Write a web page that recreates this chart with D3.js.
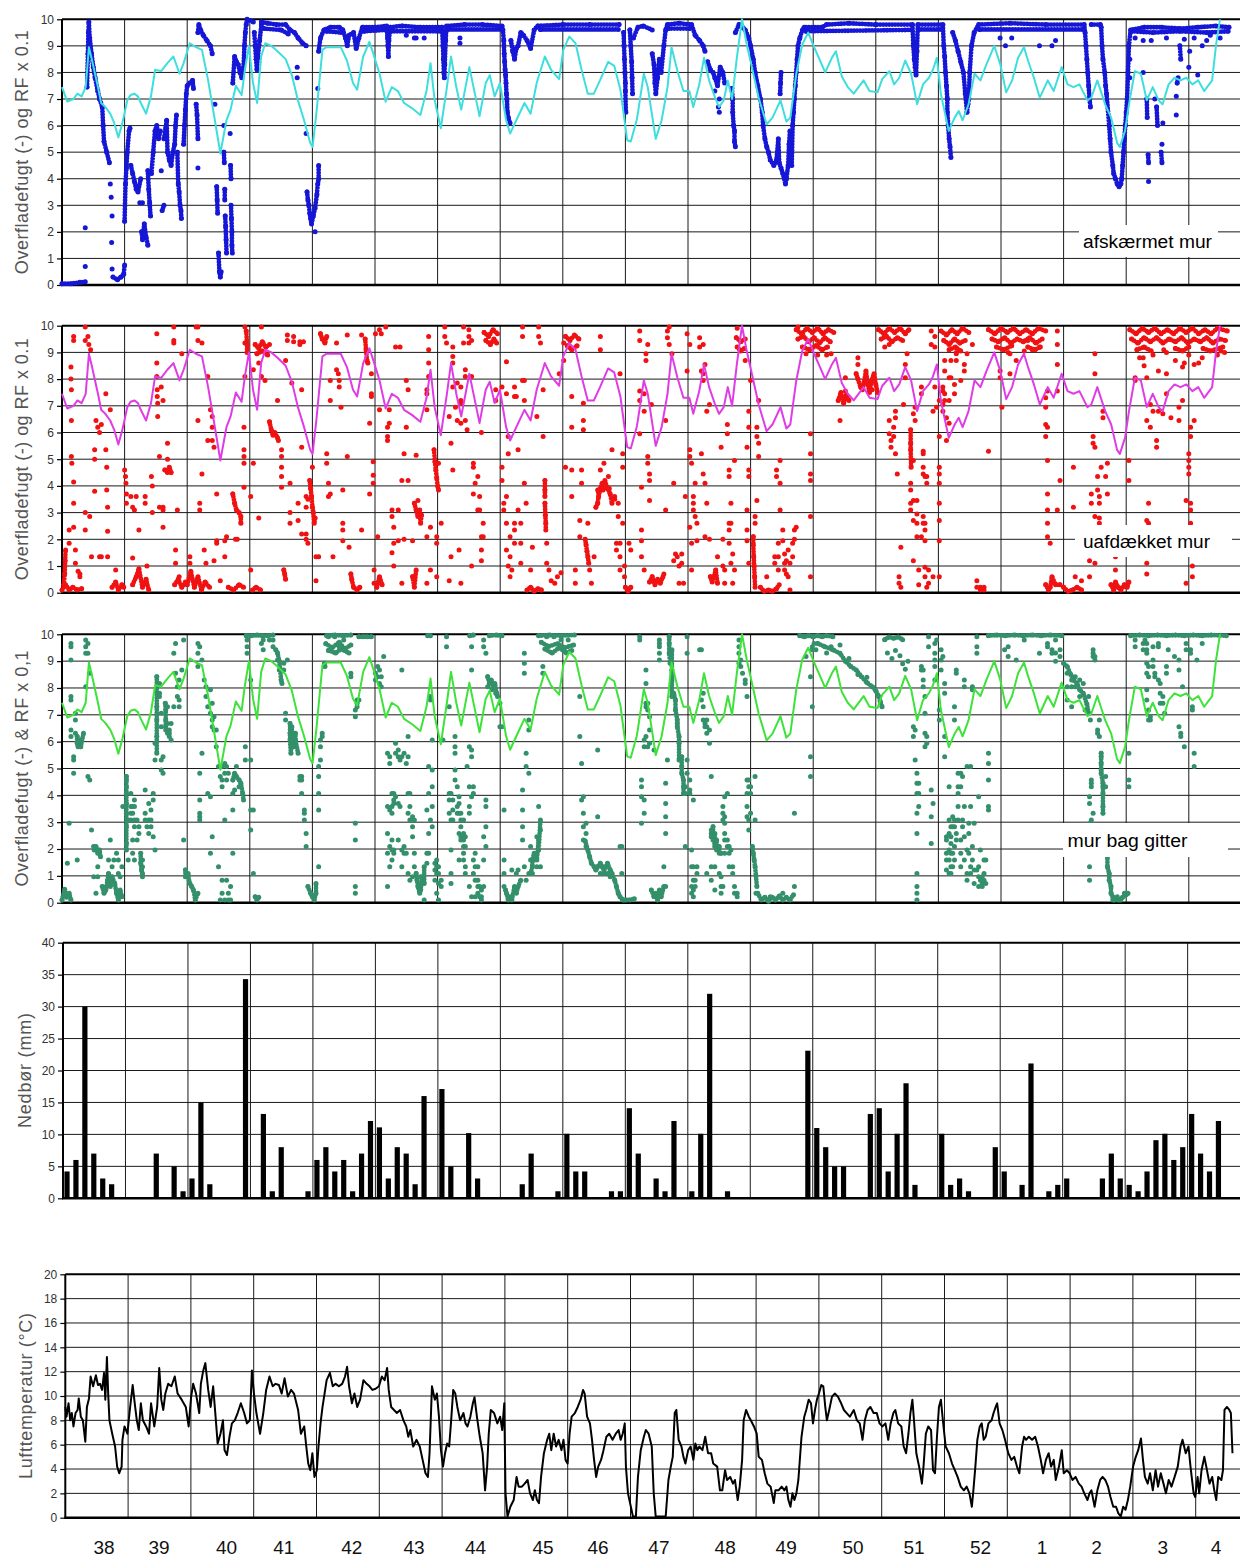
<!DOCTYPE html>
<html><head><meta charset="utf-8">
<script src="https://cdn.jsdelivr.net/npm/d3@7"></script>
<style>body{margin:0;background:#fff}svg{display:block}text{font-family:Arial,"Liberation Sans",sans-serif}</style>
</head><body><svg id="c" width="1241" height="1558"></svg>
<script>
// ---------------- DATA ----------------
// x values are days from the start of week 38, y values as read from the chart
const weekLabels = ["38","39","40","41","42","43","44","45","46","47","48","49","50","51","52","1","2","3","4"];
const weekLabelDay = [4.31,10.45,17.97,24.35,31.94,38.87,45.73,53.25,59.39,66.17,73.55,80.35,87.8,94.6,102.02,108.86,114.95,122.33,128.28];

// relative humidity x 0.1 (same series drawn in the three upper panels)
const rf = [[0,7.45],[0.59,6.9],[1.28,7.0],[1.73,7.2],[2.19,7.1],[2.65,7.45],[3.01,8.95],[3.33,8.5],[4.02,7.45],[4.38,6.85],[4.84,6.7],[5.39,6.45],[5.84,6.1],[6.3,5.55],[6.75,6.1],[6.98,6.45],[7.3,6.95],[7.67,7.15],[8.12,7.2],[8.49,7.1],[8.81,6.85],[9.4,6.45],[9.95,7.1],[10.41,8.1],[11.09,8.05],[11.78,8.35],[12.46,8.6],[13.14,7.95],[13.6,8.35],[14.29,9.1],[14.97,8.95],[15.65,8.85],[16.34,7.7],[17.02,6.35],[17.71,4.95],[18.39,6.2],[18.85,6.6],[19.44,7.5],[20.08,7.15],[20.45,8.1],[20.9,9.0],[21.36,7.6],[21.82,6.85],[22.27,8.6],[22.73,9.1],[23.41,9.0],[24.1,8.8],[25.01,8.5],[25.7,7.9],[26.38,6.95],[27.07,6.2],[27.75,5.35],[28.02,5.2],[28.44,6.45],[29.12,8.85],[29.58,8.95],[30.49,8.95],[31.17,8.95],[31.86,8.45],[32.54,7.6],[33.0,7.35],[33.68,8.6],[34.37,9.15],[34.82,8.7],[35.51,7.95],[36.19,6.9],[36.88,7.45],[37.56,7.3],[38.25,6.85],[39.16,6.65],[40.07,6.4],[40.76,7.3],[41.21,8.35],[41.67,6.95],[42.36,5.9],[43.04,7.45],[43.5,8.6],[44.09,7.45],[44.64,6.6],[45.55,8.2],[46.23,7.1],[46.69,6.35],[47.38,7.6],[47.83,7.9],[48.38,7.1],[48.97,7.6],[49.66,6.2],[50.11,5.7],[50.8,6.2],[51.71,6.85],[52.4,6.45],[53.08,7.6],[53.99,8.6],[54.68,8.1],[55.59,7.75],[56.05,8.85],[56.73,9.35],[57.42,9.1],[58.1,8.1],[58.79,7.2],[59.47,7.2],[60.16,7.7],[61.07,8.4],[61.75,8.25],[62.44,7.35],[63.2,5.45],[63.6,5.4],[64.26,6.2],[64.39,6.45],[65.06,7.95],[65.5,7.45],[66.39,5.5],[67.05,6.2],[67.71,7.45],[68.16,8.95],[68.82,8.05],[69.49,7.3],[70.15,7.3],[70.59,6.7],[71.26,7.55],[71.79,8.55],[72.36,7.7],[73.03,7.05],[73.47,6.7],[74.0,6.95],[74.45,7.7],[74.93,7.0],[75.46,8.55],[76.04,10.0],[76.57,9.05],[77.24,8.05],[77.9,7.05],[78.79,6.05],[79.45,6.3],[80.34,6.95],[81.0,6.15],[81.44,6.3],[82.11,7.95],[82.77,9.05],[83.44,9.5],[84.1,8.95],[84.76,8.45],[85.34,8.0],[86.09,8.55],[86.54,8.8],[87.2,7.85],[87.87,7.45],[88.53,7.2],[88.97,7.4],[89.64,7.7],[90.3,7.3],[91.19,7.25],[91.72,7.75],[92.52,8.05],[93.05,7.55],[93.62,7.8],[94.29,8.45],[94.95,7.95],[95.62,6.8],[96.28,7.55],[96.94,7.8],[97.39,8.1],[97.83,8.55],[98.27,7.2],[99.16,5.8],[99.82,6.3],[100.27,6.55],[100.71,6.2],[101.37,6.8],[102.04,7.95],[102.7,7.7],[103.37,8.3],[104.25,9.0],[104.92,8.3],[105.58,7.25],[106.24,7.7],[106.91,8.55],[107.57,8.95],[108.02,8.45],[108.68,7.8],[109.34,7.05],[110.23,7.7],[110.89,7.3],[111.78,8.2],[112.44,7.55],[113.11,7.45],[113.77,7.55],[114.66,6.95],[115.1,7.05],[115.77,7.7],[116.65,6.8],[117.32,6.3],[117.98,5.35],[118.29,5.2],[118.87,5.8],[119.31,6.8],[119.97,8.05],[120.64,7.95],[121.3,6.95],[121.97,7.45],[122.63,6.95],[123.07,6.8],[123.74,7.55],[124.4,7.8],[125.07,7.7],[125.73,7.8],[126.4,7.55],[127.06,7.7],[127.72,7.3],[128.61,7.7],[129.05,9.05],[129.49,10.0]];

// surface moisture, shielded wall (dense hourly runs + single readings)
const blueRuns = [
[[0,0.05],[1,0.05],[2,0.1],[2.6,0.12]],
[[2.8,7.45],[2.9,8.7],[2.95,9.5],[3.0,9.9],[3.1,9.3],[3.3,8.7],[3.5,8.2],[3.7,7.8],[4.0,7.3],[4.2,7.0],[4.5,6.7],[4.6,6.0],[4.7,5.4],[5.0,5.0],[5.3,4.6]],
[[5.7,0.3],[6.2,0.2],[6.6,0.3],[6.9,0.4],[7.0,0.75]],
[[7.0,2.4],[7.1,3.8],[7.2,4.4],[7.3,5.0],[7.5,5.8],[7.6,5.9]],
[[7.7,4.5],[7.9,4.2],[8.1,3.9],[8.3,3.6],[8.5,3.5],[8.8,4.0]],
[[8.9,2.0],[9.0,1.7],[9.2,2.3],[9.4,1.8],[9.6,1.5]],
[[9.6,4.3],[9.7,3.6],[9.8,3.1],[9.9,2.6]],
[[10.0,4.2],[10.2,5.0],[10.4,5.8],[10.6,6.0],[10.8,5.5],[11.0,5.8]],
[[11.2,2.8],[11.4,3.0]],
[[11.4,5.5],[11.6,5.9],[11.7,6.2],[11.8,5.0],[12.0,4.7],[12.2,4.5],[12.4,5.0],[12.6,5.3],[12.7,6.0],[12.8,6.4]],
[[12.9,5.0],[13.0,3.8],[13.1,3.5],[13.2,3.0],[13.3,2.8],[13.35,2.5]],
[[13.6,5.3],[13.7,6.0],[13.8,6.6],[13.9,7.2],[14.0,7.5],[14.3,7.6],[14.6,7.7],[14.7,7.4]],
[[15.0,6.8],[15.1,6.4],[15.2,5.5]],
[[15.2,9.5],[15.3,9.8],[15.5,9.6],[15.8,9.4],[16.2,9.2],[16.6,9.0],[16.8,8.7]],
[[17.3,3.7],[17.35,3.2],[17.4,2.7]],
[[17.5,1.2],[17.6,0.5],[17.7,0.3],[17.8,0.5]],
[[18.1,5.0],[18.15,4.6]],
[[18.2,3.6],[18.2,3.2]],
[[18.25,2.6],[18.3,2.2],[18.35,1.7],[18.4,1.2]],
[[18.85,4.5],[18.9,4.0]],
[[18.9,3.0],[18.95,2.5],[19.0,2.0],[19.0,1.5],[19.05,1.2]],
[[19.1,7.6],[19.3,8.6],[19.5,8.4],[19.7,8.3],[19.9,8.0],[20.1,7.8],[20.3,8.2],[20.4,9.0],[20.5,9.5],[20.6,9.8],[20.7,10.0],[21.4,9.9]],
[[21.5,9.5],[21.6,9.0],[21.7,8.5],[21.8,8.1],[21.9,8.6],[22.1,9.2],[22.3,9.8]],
[[22.3,9.9],[23,9.85],[24,9.8],[25,9.8],[25.5,9.6],[26,9.5],[26.4,9.3],[26.9,9.1],[27.3,9.0]],
[[22.6,9.65],[24.5,9.6],[25.3,9.45]],
[[27.4,3.5],[27.5,3.2],[27.6,3.0],[27.7,2.7],[27.8,2.5],[27.9,2.3],[28.1,2.6],[28.3,2.9],[28.5,3.4],[28.6,3.8],[28.7,4.0],[28.7,4.5]],
[[28.7,8.8],[28.9,9.3],[29.3,9.6],[30,9.7],[31,9.7],[31.4,9.6],[31.7,9.3],[31.9,9.0],[32.1,9.4],[32.6,9.5],[32.9,8.9],[33.2,9.3],[33.6,9.7],[35,9.7],[36.3,9.75],[36.4,9.3],[36.45,9.0],[36.5,8.6],[36.55,9.2],[36.7,9.7],[38,9.75],[40,9.7],[42.5,9.7],[42.6,9.0],[42.65,8.5],[42.7,8.0],[42.75,7.8],[42.8,8.3],[42.9,9.2],[43,9.75],[45,9.8],[47,9.8],[49.2,9.75],[49.3,9.6],[49.4,9.2],[49.45,8.7],[49.5,8.4],[49.55,8.1],[49.6,7.9],[49.65,7.6],[49.7,7.2],[49.75,7.0],[49.8,6.5],[49.9,6.3],[50.1,6.1]],
[[29.6,9.55],[31.2,9.5]],[[33.8,9.55],[36.2,9.6]],[[36.8,9.55],[42.4,9.55]],[[43.1,9.62],[49.1,9.62]],
[[50.2,9.2],[50.4,8.8],[50.6,8.5],[50.8,8.9],[51.0,9.0],[51.3,9.5],[51.6,9.4],[52.0,9.2],[52.4,8.9],[52.8,9.6],[53.2,9.75],[56,9.8],[59,9.8],[62.3,9.8]],
[[53.5,9.62],[62.2,9.62]],
[[62.8,9.5],[62.85,9.0],[62.9,8.5],[62.95,8.0],[63.0,7.6],[63.0,7.3],[63.05,6.5]],
[[63.5,9.6],[63.6,9.0],[63.7,8.4],[63.75,7.8],[63.8,7.2]],
[[63.9,9.3],[64.4,9.7],[65,9.75],[66.0,9.6]],
[[66.0,8.7],[66.2,8.3],[66.3,7.6],[66.4,7.2],[66.6,7.8],[66.8,8.5],[67.0,8.0],[67.3,9.0],[67.5,9.6],[67.7,9.8],[69,9.85],[70.4,9.8],[70.8,9.4],[71.3,9.2],[71.7,9.0],[71.9,8.8]],
[[67.8,9.65],[70.2,9.65]],
[[72.2,8.4],[72.5,8.1],[72.8,8.0],[73.0,7.8],[73.3,7.5],[73.6,8.2],[73.9,8.0],[74.1,7.6]],
[[74.9,7.4],[75.0,7.0],[75.0,6.5],[75.1,6.0],[75.2,5.8],[75.2,5.4],[75.3,5.2]],
[[75.3,9.5],[75.7,9.8],[76.1,9.7],[76.4,9.6],[76.8,9.3],[77.0,9.0],[77.3,8.5],[77.5,8.0],[77.8,7.5],[78.1,7.0],[78.3,6.5],[78.4,6.0],[78.6,5.5],[78.8,5.2],[79.0,5.0],[79.2,4.7],[79.6,4.5],[79.9,4.7],[80.1,5.5],[80.2,4.6],[80.4,4.4],[80.6,4.2],[80.9,3.8],[81.0,4.0],[81.2,4.5],[81.3,5.3],[81.4,5.8],[81.5,5.0],[81.6,4.5],[81.7,6.0],[81.8,6.5],[81.9,7.0],[82.0,7.5],[82.1,8.0],[82.2,8.5],[82.3,9.0],[82.5,9.3],[82.8,9.6],[83,9.7],[85,9.7],[85.5,9.8],[88,9.85],[91,9.8],[95.1,9.8],[95.2,9.0],[95.3,8.5],[95.4,8.2],[95.5,7.9],[95.6,8.8],[95.7,9.8],[98.5,9.8],[98.6,9.0],[98.7,8.6],[98.8,8.0],[98.9,7.5],[99.0,7.0],[99.0,6.5],[99.1,6.0],[99.2,5.5],[99.3,5.2],[99.4,4.8]],
[[83.2,9.55],[95.0,9.6]],[[95.8,9.62],[98.4,9.62]],
[[80.3,7.2],[80.35,7.6],[80.4,8.0]],
[[99.6,9.5],[99.9,9.2],[100.2,8.8],[100.5,8.4],[100.8,8.0],[101.0,7.2],[101.2,6.5],[101.3,6.8],[101.4,7.0],[101.5,8.0],[101.7,9.0],[102,9.5],[102.5,9.8],[106,9.85],[110,9.8],[114.3,9.8],[114.4,9.5],[114.5,9.0],[114.6,8.5],[114.7,8.0],[114.8,7.5],[114.9,7.0],[115.0,6.7]],
[[102.6,9.62],[114.2,9.62]],
[[115.1,9.8],[116.1,9.8],[116.2,9.7],[116.3,9.0],[116.4,8.5],[116.6,8.0],[116.7,7.5],[116.8,7.2],[117.1,6.0],[117.2,5.5],[117.3,5.0],[117.5,4.5],[117.6,4.2],[117.8,4.0],[118.0,3.8],[118.2,3.7],[118.4,3.8],[118.5,4.0],[118.6,4.5],[118.7,5.0],[118.8,5.5],[118.9,6.0],[119.0,6.5],[119.1,7.0],[119.2,8.0],[119.3,9.0],[119.5,9.6],[121,9.7],[123,9.7],[125,9.65],[127,9.7],[129,9.75],[130.5,9.7]],
[[119.6,9.55],[122,9.5],[125,9.55],[128,9.5],[130.4,9.55]],
[[121.3,7.0],[121.35,6.3]],[[121.45,4.9],[121.5,4.6]],[[122.4,6.7],[122.5,6.0]],[[122.9,5.0],[123.0,4.6]],[[124.7,7.6],[124.8,7.8]],[[125.0,9.0],[125.1,8.5]]
];
const blueDots = [[2.6,0.7],[2.6,2.15],[5.4,3.8],[5.5,3.3],[5.6,2.6],[5.55,1.6],[5.6,0.6],[8.7,3.1],[9.0,3.1],[11.1,4.3],[15.2,4.4],[17.1,6.8],[18.1,6.0],[18.8,5.7],[26.3,8.2],[26.3,7.8],[27.3,5.7],[28.3,2.0],[28.6,7.4],[38.5,9.4],[39.4,9.3],[39.6,9.3],[40.5,9.3],[44.5,9.3],[44.5,9.1],[73.0,7.3],[73.5,7.0],[73.4,6.7],[73.5,6.5],[104.9,9.3],[105.5,9.0],[106.2,9.3],[109.3,9.0],[110.7,9.0],[111.1,9.2],[119.4,8.5],[119.4,7.8],[120.9,9.2],[120.9,8.0],[121.5,3.9],[122.2,7.0],[123.0,5.3],[123.1,6.1],[124.6,6.4],[124.6,7.1],[126.0,8.2],[126.1,8.8],[127.0,7.9],[127.5,9.0],[128.4,9.4],[120,9.3],[121.8,9.2],[123.5,9.3],[125.5,9.25],[126.6,9.3],[128,9.2],[129.5,9.3]];

// surface moisture, uncovered wall
const redRuns = [
[[0,0.1],[0.4,0.3],[0.8,0.1],[1.2,0.2],[1.7,0.1],[2.2,0.15]],
[[0.2,0.3],[0.3,0.7],[0.35,1.2],[0.4,1.6]],
[[5.6,0.2],[6.0,0.4],[6.3,0.1],[6.7,0.3],[6.9,0.2]],
[[7.9,0.3],[8.3,0.6],[8.6,0.9],[9.0,0.2],[9.4,0.5],[9.7,0.1]],
[[11.5,4.6],[11.8,4.5],[12.0,4.7],[12.2,4.5]],
[[12.6,0.3],[13.0,0.5],[13.4,0.2],[13.8,0.4]],
[[14.0,0.3],[14.4,0.8],[14.8,0.2],[15.2,0.6],[15.6,0.1],[16.0,0.4],[16.5,0.2]],
[[19.1,3.7],[19.3,3.35],[19.5,3.1],[19.8,3.0],[20.0,2.85],[20.0,2.6]],
[[18.6,0.2],[19.2,0.1],[19.8,0.3],[20.3,0.2]],
[[20.6,9.8],[20.7,9.3],[20.7,9.0]],
[[21.3,0.1],[21.7,0.2],[22.2,0.1]],
[[21.6,9.3],[22.0,9.15],[22.4,9.4],[22.8,9.2],[23.2,9.3]],[[21.8,8.95],[22.4,9.05],[23.0,8.9]],
[[23.2,6.4],[23.4,6.1],[23.6,5.9],[23.8,6.0],[24.1,5.8],[24.2,5.7]],
[[24.8,0.85],[24.9,0.7],[25.0,0.5]],
[[27.7,4.2],[27.8,3.9],[27.9,3.6],[28.0,3.2],[28.1,3.0],[28.2,2.6],[28.3,2.8]],
[[28.9,9.7],[29.1,9.5],[29.4,9.35],[29.6,9.6]],
[[32.3,0.7],[32.4,0.5],[32.6,0.2],[33.0,0.1],[33.3,0.2]],
[[33.9,9.5],[34.0,9.1],[34.1,8.7],[34.2,8.6]],
[[35.2,0.2],[35.5,0.6],[35.8,0.3]],
[[39.2,0.6],[39.4,0.2],[39.6,0.85]],
[[39.4,3.35],[39.6,3.1],[39.8,2.85],[40.0,3.1],[40.1,2.6],[40.2,2.9]],
[[41.6,5.35],[41.7,4.9],[41.8,4.6],[41.9,4.3],[42.0,4.0],[42.1,3.85]],
[[47.2,9.75],[47.7,9.6],[48.2,9.85],[48.7,9.7]],[[47.4,9.45],[47.9,9.3],[48.3,9.5],[48.6,9.35]],
[[52.0,0.1],[52.4,0.2],[52.8,0.05],[53.2,0.15],[53.6,0.1]],
[[54.0,4.2],[54.0,3.85],[54.0,3.6]],
[[54.0,3.35],[54.05,2.9],[54.1,2.6],[54.1,2.35]],
[[56.3,9.6],[56.8,9.45],[57.3,9.65],[57.8,9.5]],[[56.5,9.25],[57.0,9.1],[57.6,9.25]],
[[58.5,2.0],[58.6,1.8],[58.7,1.55],[58.8,1.35],[58.9,1.1]],
[[59.7,3.2],[59.9,3.35],[60.0,3.6],[60.2,3.9],[60.4,4.1],[60.5,3.85],[60.7,4.2],[61.0,3.9],[61.3,3.7],[61.5,3.35]],
[[60.0,3.75],[60.6,3.95],[61.2,3.9]],
[[63.0,0.2],[63.3,0.05],[63.6,0.2]],
[[65.7,0.4],[66.0,0.6],[66.3,0.3],[66.6,0.5],[66.9,0.35],[67.2,0.6]],
[[72.5,0.6],[72.7,0.4],[72.9,0.6],[73.1,0.85],[73.3,0.35]],
[[75.4,9.55],[75.9,9.4],[76.4,9.5]],[[75.5,9.2],[75.9,9.05],[76.3,9.15]],
[[77.3,2.1],[77.3,1.8],[77.35,1.35],[77.4,1.0],[77.45,0.6],[77.5,0.2]],
[[78.1,0.2],[78.5,0.05],[79.0,0.1],[79.4,0.05],[79.9,0.15],[80.2,0.3]],
[[82.1,9.85],[82.7,9.7],[83.3,9.9],[83.9,9.75],[84.5,9.9],[85.1,9.7],[85.7,9.85],[86.3,9.75]],
[[82.3,9.5],[82.9,9.6],[83.5,9.4],[84.1,9.55],[84.7,9.35],[85.3,9.55],[85.9,9.4]],
[[82.8,9.2],[83.6,9.1],[84.3,9.25],[85.0,9.1],[85.6,9.2]],
[[86.8,7.2],[87.1,7.5],[87.4,7.1],[87.7,7.4],[88.0,7.2]],
[[88.8,8.2],[89.0,8.0],[89.3,7.7],[89.5,7.6],[89.7,7.9],[89.9,8.3],[90.1,7.8],[90.3,7.5],[90.5,7.9],[90.8,8.2],[91.0,7.8],[91.2,7.5]],
[[91.3,9.85],[91.9,9.7],[92.5,9.9],[93.1,9.75],[93.7,9.9],[94.3,9.7],[94.7,9.85]],
[[91.6,9.5],[92.2,9.6],[92.8,9.4],[93.4,9.55],[94.0,9.45]],
[[94.9,6.1],[94.9,5.6],[94.9,5.35],[94.95,4.7]],
[[98.3,9.8],[98.9,9.65],[99.5,9.85],[100.1,9.7],[100.7,9.9],[101.4,9.75]],
[[98.6,9.45],[99.2,9.3],[99.8,9.5],[100.4,9.35],[101.0,9.45]],
[[99.2,9.1],[99.9,9.2],[100.5,9.05]],
[[103.6,9.85],[104.3,9.7],[105.0,9.9],[105.7,9.75],[106.4,9.9],[107.1,9.7],[107.8,9.85],[108.5,9.7],[109.2,9.9],[110,9.8]],
[[104,9.5],[104.7,9.4],[105.4,9.55],[106.1,9.35],[106.8,9.5],[107.5,9.4],[108.2,9.55],[108.9,9.35],[109.6,9.5]],
[[104.5,9.2],[105.3,9.1],[106.2,9.25]],[[108,9.2],[108.8,9.1],[109.4,9.2]],
[[110.0,0.3],[110.3,0.1],[110.5,0.2],[110.7,0.6],[111.1,0.3],[111.6,0.3]],
[[112.0,0.2],[112.5,0.05],[113.0,0.1],[113.5,0.2],[114.0,0.1]],
[[117.3,0.3],[117.6,0.1],[117.8,0.4],[118.1,0.2],[118.4,0.1],[118.8,0.3],[119.1,0.2],[119.3,0.4]],
[[119.4,9.85],[120.1,9.7],[120.8,9.9],[121.5,9.75],[122.2,9.9],[122.9,9.7],[123.6,9.85],[124.3,9.7],[125.0,9.9],[125.7,9.75],[126.4,9.9],[127.1,9.7],[127.8,9.85],[128.5,9.7],[129.2,9.9],[130.3,9.8]],
[[119.6,9.5],[120.3,9.35],[121.0,9.55],[121.7,9.4],[122.4,9.55],[123.1,9.35],[123.8,9.5],[124.5,9.4],[125.2,9.55],[125.9,9.35],[126.6,9.5],[127.3,9.4],[128.0,9.55],[128.7,9.35],[129.4,9.5],[130.1,9.45]],
[[120.2,9.1],[121,9.2],[121.8,9.05]],[[124.5,9.15],[125.3,9.05],[126,9.2]],[[127.6,9.15],[128.4,9.05],[129.8,9.2]]
];
const redDots = [[0.8,2.35],[0.8,1.85],[1.0,8.45],[1.0,8.0],[1.05,7.6],[1.05,6.45],[1.05,5.1],[1.1,4.85],[1.3,9.6],[1.3,9.45],[1.3,4.15],[1.3,3.35],[1.3,2.45],[1.5,1.6],[1.5,1.1],[1.8,0.8],[2.0,0.6],[2.0,0.7],[2.6,9.95],[2.6,9.45],[2.6,2.35],[2.6,3.0],[2.9,9.6],[3.0,9.3],[3.2,9.1],[3.1,2.85],[3.3,1.35],[3.65,3.8],[3.65,5.0],[3.65,5.35],[3.8,6.45],[4.0,6.2],[4.2,6.0],[4.4,6.3],[4.2,1.35],[4.4,1.35],[4.9,7.45],[4.9,5.35],[5.0,4.7],[5.0,3.85],[5.1,3.2],[5.1,1.35],[5.4,6.85],[5.1,2.3],[6.0,0.85],
[7.0,4.6],[7.1,4.35],[7.15,4.1],[7.2,3.7],[7.2,3.35],[7.7,3.6],[7.9,3.2],[8.1,3.1],[8.3,3.6],[8.6,2.35],[7.9,1.3],[9.3,3.6],[9.3,3.35],[9.5,1.0],[10.0,4.35],[10.1,4.0],[10.1,3.0],
[10.6,9.7],[10.6,8.6],[10.6,8.1],[10.65,7.6],[10.65,7.35],[10.7,7.1],[10.7,6.6],[10.9,5.1],[10.9,3.2],[11.1,7.7],[11.3,7.2],[11.3,3.2],[11.3,3.1],[11.3,2.45],[11.8,5.0],[11.8,5.6],[12.5,9.95],[12.5,9.45],[12.5,9.35],[12.7,1.6],[12.7,1.1],[12.9,3.1],[13.1,0.6],[13.4,8.95],
[14.3,1.1],[14.3,1.35],[15.0,9.95],[15.2,9.95],[15.2,9.45],[15.2,6.45],[15.4,3.1],[15.4,3.35],[15.65,9.35],[15.65,4.45],[15.9,1.6],[16.1,1.1],[16.3,8.1],[16.3,5.7],[16.6,6.85],[16.8,6.6],[16.8,6.2],[16.8,5.7],[17.0,5.45],[17.0,1.2],[17.3,3.7],[17.3,1.95],[17.3,1.85],[17.7,0.45],[18.2,1.35],[18.2,1.95],[18.4,2.1],[19.4,2.0],[19.6,2.0],
[20.35,4.85],[20.35,5.1],[20.35,5.35],[20.35,6.2],[20.35,3.95],[20.45,8.1],[20.45,9.35],[20.45,9.95],
[21.1,0.85],[21.1,3.6],[21.4,4.85],[21.4,8.35],[22.0,8.6],[22.3,9.95],[22.3,8.1],[22.7,7.95],[22.0,2.8],
[24.1,7.2],[24.55,5.35],[24.55,5.1],[24.55,4.7],[24.55,4.35],[24.55,3.95],[25.0,8.7],[25.2,9.45],[25.2,9.65],[25.5,4.1],[25.5,3.0],[25.5,2.6],[25.7,7.85],[25.9,9.4],[25.9,9.6],[26.6,9.4],[26.6,9.3],[26.8,7.6],[26.8,5.45],[27.0,9.4],[26.4,2.7],[26.4,3.35],[26.8,2.2],[27.3,2.2],[27.3,2.0],[27.3,3.2],[27.3,3.6],[27.5,1.85],[27.5,3.5],[28.0,4.7],[28.4,1.35],[28.4,0.45],[28.7,1.35],
[29.6,5.2],[29.6,4.85],[29.8,4.1],[30.0,3.7],[29.8,3.6],[30.0,7.95],[30.0,7.2],[30.3,1.35],[30.7,9.35],[30.7,8.35],[30.9,8.2],[31.0,7.95],[31.0,7.7],[31.2,6.95],[31.4,3.85],[31.4,2.6],[31.4,2.35],[31.4,1.95],[31.9,9.65],[31.9,5.1],[32.1,1.7],[33.5,9.65],[33.5,2.35],[34.4,6.35],[34.4,3.7],[34.6,8.2],[34.6,7.45],[34.6,7.35],[34.8,4.9],[34.8,4.4],[34.8,4.1],[34.9,0.85],[34.9,0.35],[35.05,9.7],
[35.3,2.1],[35.5,9.85],[35.5,6.85],[35.7,9.7],[36.2,9.95],[36.4,5.85],[36.4,6.2],[36.4,5.7],[36.6,6.85],[36.6,6.35],[36.9,2.85],[36.9,3.1],[36.9,1.5],[37.1,2.45],[37.1,1.85],[37.1,1.0],[37.3,9.2],[37.6,3.1],[37.6,1.95],[37.8,9.2],[38.0,4.2],[38.0,0.35],[38.25,2.0],[38.25,5.2],[38.5,6.2],[38.5,7.95],[38.7,7.6],[38.7,4.2],[39.2,1.95],[39.8,3.45],[39.6,5.15],
[40.8,7.6],[40.8,7.45],[40.8,6.85],[40.8,2.1],[40.8,0.35],[41.0,9.6],[41.0,9.1],[41.0,8.6],[41.0,8.1],[41.2,2.45],[41.2,0.85],[41.9,2.1],[41.9,1.85],[41.9,0.6],
[42.1,4.85],[42.4,2.6],[42.8,9.95],[42.8,9.6],[43.0,9.35],[43.3,6.6],[43.3,0.45],[43.5,5.6],[43.5,1.35],[43.7,9.2],[43.7,8.85],[43.7,8.6],[43.7,7.7],[43.7,4.6],[44.0,6.95],[44.2,7.85],[44.2,6.45],[44.4,1.6],[44.6,7.7],[44.6,7.2],[44.6,7.1],[44.6,6.35],[44.6,0.35],[44.9,9.95],[44.9,9.35],[45.1,8.35],[45.1,8.1],[45.1,6.45],[45.3,6.1],[45.5,9.85],[45.5,9.6],[45.5,9.35],[45.8,9.45],[45.8,8.1],[45.8,1.0],[46.0,4.85],[46.0,4.7],[46.0,3.7],[46.2,4.1],[46.5,4.35],[46.5,3.1],[46.7,3.6],[46.7,3.1],[46.9,6.0],[46.9,2.1],[46.9,1.6],[46.9,1.2],[47.1,2.6],[47.1,2.1],
[48.5,7.6],[48.5,7.2],[49.2,7.7],[49.2,4.7],[49.2,4.2],[49.4,3.1],[49.4,3.35],[49.7,8.65],[49.7,7.45],[49.7,3.6],[49.7,2.6],[49.7,1.6],[49.9,5.85],[49.9,5.2],[49.9,1.0],[50.1,2.1],[50.1,1.35],[50.1,0.6],[50.3,0.85],[50.6,2.35],[50.6,1.85],
[50.6,7.7],[50.6,7.35],[50.6,2.6],[50.8,7.35],[51.0,5.35],[51.0,3.1],[51.3,2.6],[51.3,1.85],[51.3,1.1],[51.5,9.95],[51.5,9.6],[51.5,7.95],[51.7,7.95],[51.7,7.2],[51.7,4.1],[51.9,3.35],[52.4,0.85],[52.6,1.7],[53.1,6.6],[53.3,9.95],[53.3,9.6],[53.5,9.35],[53.8,7.6],[53.8,5.85],[54.2,1.85],[54.2,1.1],[54.45,0.85],[54.7,0.45],[55.1,0.35],[55.4,0.6],[55.8,0.75],[55.6,8.2],[56.1,9.35],[56.1,8.7],[56.3,4.7],
[57.0,7.35],[57.0,6.2],[57.0,3.6],[57.0,4.6],[57.4,0.85],[57.4,0.35],[57.9,2.7],[57.9,2.1],[58.1,4.6],[58.1,4.1],[58.3,6.45],[58.3,6.1],[58.3,7.1],[58.8,2.6],[59.0,0.85],[59.2,0.35],[59.5,1.35],[59.9,3.85],[60.2,4.6],[60.6,4.85],[61.1,4.35],[61.5,5.35],[61.8,3.6],[61.8,3.5],[60.2,9.6],[60.2,9.1],
[62.0,1.85],[62.0,1.6],[62.2,3.35],[62.2,2.85],[62.4,8.2],[62.4,1.85],[62.4,1.35],[62.4,0.85],[62.7,5.2],[62.7,4.7],[62.7,2.6],[62.9,1.0],[62.9,0.6],[63.4,1.85],[63.6,1.6],
[64.6,9.8],[64.6,9.45],[64.6,7.55],[64.6,7.2],[64.6,5.95],[64.8,3.95],[64.8,2.35],[64.8,1.95],[64.8,1.35],[65.1,7.45],[65.1,6.8],[65.1,0.85],[65.3,8.95],[65.3,8.7],[65.5,9.3],[65.5,5.1],[65.5,4.85],[65.7,4.45],[65.7,4.2],[65.7,3.45],[65.9,7.05],[67.3,0.7],[67.5,6.45],[67.5,3.1],[67.7,9.8],[67.7,9.55],[67.9,9.95],[67.9,9.3],[68.2,8.95],[68.4,4.1],[68.4,1.2],[68.6,1.45],[68.8,1.35],[69.0,1.0],[69.0,0.35],[69.3,1.45],[69.3,1.1],[69.5,0.35],[69.7,3.6],[69.9,9.7],[69.9,8.3],[70.2,9.3],[70.2,5.35],[70.2,5.1],[70.2,2.45],[70.4,4.85],[70.4,1.85],[70.4,0.85],[70.6,3.1],[70.6,3.6],[70.6,3.35],[70.8,2.85],[70.8,4.1],[71.0,2.6],[71.0,1.95],[71.3,9.55],[71.3,9.2],[71.5,8.3],[71.5,5.2],[71.7,9.3],[71.7,8.2],[71.7,7.95],[71.7,4.45],[71.9,8.55],[71.9,4.1],[71.9,2.1],[72.1,6.8],[72.1,3.35],[72.4,7.05],[72.4,2.0],[73.3,1.35],[73.7,5.45],[73.9,2.0],[73.9,1.0],[74.1,0.85],[74.1,0.35],[74.4,6.3],[74.4,5.95],[74.6,4.6],[74.6,4.35],[74.6,2.6],[74.6,2.35],[74.6,1.85],[74.8,3.35],[74.8,2.6],[74.8,1.1],[75.0,1.45],[75.0,0.35],[75.2,4.95],[75.2,0.85],[75.5,9.9],[76.4,8.7],[76.6,5.45],[76.6,3.1],[76.6,2.35],[76.6,1.95],[76.8,6.8],[76.8,6.2],[76.8,4.6],[76.8,4.35],[76.8,1.1],[77.0,7.95],[77.5,2.6],[77.5,2.85],[77.7,6.2],[77.7,5.85],[77.7,3.45],[77.9,5.6],[77.9,5.1],[77.9,7.2],[78.8,0.6],[79.7,1.35],[79.7,1.1],[79.9,4.6],[79.9,4.35],[80.1,1.85],[80.1,1.35],[80.1,0.85],[80.3,4.95],[80.3,4.1],[80.3,3.1],[80.6,2.35],[80.6,1.95],[80.8,1.45],[80.8,1.1],[80.8,0.85],[81.0,1.2],[81.0,0.7],[81.2,1.6],[81.2,0.6],[81.4,1.1],[81.4,0.1],[81.7,1.85],[81.7,1.35],[81.9,2.0],[81.9,2.35],[82.1,2.45],[82.3,9.95],[83.7,5.95],[83.7,5.2],[83.7,4.45],[83.7,4.2],[83.7,2.85],[83.7,0.6],[84.5,8.9],[85.5,8.9],[86.0,8.95],[87.0,6.45],[87.6,8.05],[87.6,7.55],[89.0,8.55],[89.0,8.8],[89.9,8.0],[90.6,7.6],[92.0,9.2],[92.5,9.3],[92.5,6.45],[92.5,5.95],[92.7,5.7],[92.7,5.45],[93.0,6.2],[93.0,5.85],[93.2,6.55],[93.2,6.8],[93.2,5.2],[93.4,4.45],[93.6,0.6],[93.6,0.35],[93.8,0.2],[93.8,1.7],[94.1,7.05],[94.3,8.55],[94.3,8.05],[94.5,8.95],[94.9,4.1],[94.9,3.85],[94.9,3.35],[94.9,3.1],[95.2,6.7],[95.2,4.95],[95.2,3.45],[95.2,2.7],[95.2,1.2],[95.4,6.45],[95.4,6.95],[95.6,3.45],[95.6,2.95],[95.6,2.6],[95.6,2.1],[95.8,0.85],[95.8,0.3],[96.1,7.7],[96.1,7.45],[96.1,2.1],[96.3,5.3],[96.3,5.2],[96.3,4.7],[96.3,4.45],[96.3,2.85],[96.3,2.6],[96.5,4.35],[96.5,2.6],[96.5,2.35],[96.5,1.95],[96.5,0.95],[96.5,0.6],[96.7,4.35],[96.7,4.1],[96.7,0.2],[96.9,0.35],[96.9,0.85],[97.2,9.8],[97.2,9.3],[97.4,6.8],[97.4,0.6],[97.6,9.6],[97.6,9.2],[97.6,7.7],[97.8,6.95],[98.1,7.2],[98.1,5.85],[98.1,4.7],[98.1,4.45],[98.1,4.1],[98.1,3.35],[98.1,2.7],[98.1,1.95],[98.1,0.6],[98.5,7.7],[98.5,7.55],[98.5,7.05],[98.5,6.8],[98.7,8.7],[98.7,8.3],[98.7,7.45],[98.7,7.2],[98.9,6.55],[98.9,5.7],[99.2,8.05],[99.2,7.2],[99.2,6.35],[99.4,8.7],[99.4,8.05],[99.8,7.8],[99.8,7.45],[100.0,8.95],[100.0,8.7],[100.5,7.95],[100.9,8.55],[100.9,8.3],[101.2,8.95],[101.8,9.3],[102.3,0.45],[102.3,0.2],[102.7,0.1],[102.7,0.2],[103.1,0.2],[103.1,0.1],[103.6,5.3],[104.9,8.3],[104.9,8.05],[105.1,6.95],[106.0,8.95],[106.0,8.2],[106.7,8.7],[108.0,9.45],[108.5,9.1],[109.3,9.2],[110.0,7.3],[110.0,6.95],[110.0,6.3],[110.0,5.85],[110.2,7.55],[110.2,6.2],[110.2,4.95],[110.2,3.7],[110.2,3.1],[110.2,2.6],[110.2,2.1],[110.5,1.85],[111.3,9.8],[111.3,9.3],[111.3,8.55],[111.3,7.55],[111.3,3.1],[111.6,4.2],[113.1,4.7],[113.1,3.2],[113.3,0.6],[114.0,0.45],[114.9,1.2],[114.9,0.6],[115.1,3.7],[115.1,3.35],[115.3,5.85],[115.3,5.6],[115.5,8.95],[115.5,8.2],[115.5,5.45],[115.5,2.85],[115.5,1.1],[115.8,4.35],[115.8,3.85],[116.0,3.6],[116.0,3.35],[116.0,2.8],[116.0,2.6],[116.2,4.7],[116.4,6.8],[116.4,6.55],[116.7,4.35],[116.9,4.85],[116.9,3.7],[117.8,0.85],[117.8,1.35],[119.3,4.95],[119.3,4.2],[120.5,8.8],[122.0,8.9],[123.5,9.0],[124.5,8.7],[126.0,8.9],[127.5,8.8],[129.2,8.9],[130.0,9.0],[121.0,8.5],[125.5,8.6],[120.0,7.95],[120.0,8.05],[120.9,8.8],[121.3,8.05],[121.3,6.45],[121.3,2.7],[121.3,1.1],[121.3,0.7],[121.5,3.35],[121.5,2.6],[121.7,7.05],[121.7,6.2],[122.0,6.8],[122.4,5.7],[122.4,5.45],[122.6,8.3],[122.6,6.8],[123.1,6.7],[123.5,8.2],[123.5,7.45],[124.0,6.55],[124.9,6.95],[124.9,6.45],[125.3,7.2],[125.3,8.45],[125.7,0.35],[125.7,3.45],[126.0,5.2],[126.0,4.95],[126.0,4.7],[126.0,4.45],[126.2,6.2],[126.2,5.85],[126.2,3.35],[126.2,3.1],[126.2,2.6],[126.4,1.0],[126.4,0.6],[126.6,6.45],[126.6,8.55],[127.1,8.6],
[129.6,9.05],[123.2,9.1],[83.2,8.95],[105.8,9.0],[107.6,9.05],[100.0,9.0]];

// surface moisture, wall behind grille
const greenRuns = [
[[0,0.1],[0.3,0.5],[0.5,0.2],[0.8,0.35],[1.0,0.1]],
[[1.7,6.19],[1.7,5.94],[1.8,5.81],[2.0,6.06],[2.1,5.81],[2.4,6.31]],
[[3.55,2.09],[3.6,1.96],[3.8,2.09],[4.0,1.84],[4.2,1.96],[4.3,1.71]],
[[4.5,0.6],[4.7,0.35],[4.9,0.47],[5.1,0.84],[5.2,1.09],[5.4,0.6],[5.6,0.97],[5.9,0.72],[6.1,0.35],[6.3,0.1],[6.5,0.47],[6.7,0.22]],
[[7.2,4.7],[7.2,4.57],[7.2,4.32],[7.2,4.07],[7.2,3.7],[7.2,3.33],[7.2,2.83],[7.2,2.21],[7.2,1.96]],
[[8.8,1.84],[8.8,1.47],[8.9,1.22],[9.0,0.97]],
[[10.6,8.42],[10.6,8.05],[10.6,7.3],[10.6,6.81],[10.6,6.19],[10.6,5.57]],
[[11.55,7.43],[11.6,7.18],[11.6,6.81],[11.6,6.56],[11.6,6.43]],
[[13.8,1.22],[13.8,0.97],[14.1,1.09],[14.1,0.97],[14.3,0.72],[14.5,0.6],[14.7,0.47],[14.9,0.1],[15.2,0.35]],
[[19.1,4.57],[19.3,4.82],[19.5,4.7],[19.8,4.57],[20.0,4.45],[20.2,4.07],[20.3,3.83]],
[[20.6,9.95],[21.2,9.95],[21.8,9.97],[22.4,9.95],[23.0,9.95],[23.6,9.97]],
[[21.6,0.22],[21.8,0.1],[22.0,0.2]],
[[23.9,9.42],[24.1,9.3],[24.3,9.0],[24.5,8.3],[24.6,8.17]],
[[25.5,6.68],[25.5,6.31],[25.5,6.06],[25.6,5.57],[25.7,6.56],[25.7,6.19],[25.9,5.81],[25.9,6.06],[26.1,6.31],[26.1,6.06],[26.4,5.57]],
[[27.5,0.6],[27.8,0.35],[28.0,0.22],[28.2,0.1],[28.4,0.35],[28.4,0.72]],
[[29.35,8.92],[29.4,8.8]],
[[29.6,9.95],[30.5,9.97],[31.5,9.95],[32.3,9.97]],
[[29.5,9.65],[30.2,9.5],[31,9.7],[31.6,9.45],[32.3,9.6]],[[29.8,9.4],[30.6,9.3],[31.2,9.45],[32.1,9.3]],
[[33.2,9.91],[33.7,9.91],[34.1,9.91],[34.6,9.91]],
[[39.6,1.09],[39.7,0.84],[39.8,0.6],[40.0,0.35],[40.1,0.5],[40.3,0.97],[40.5,0.72],[40.5,1.34]],
[[40.9,9.95],[41.2,9.95]],
[[45.6,9.95],[46.0,9.97]],
[[47.6,8.42],[47.8,8.17],[48.0,8.3],[48.2,8.05],[48.4,8.17],[48.6,7.8],[48.7,7.68]],
[[47.8,9.95],[48.6,9.97],[49.2,9.95]],
[[49.6,0.47],[49.7,0.35],[49.9,0.1],[50.1,0.22],[50.3,0.1],[50.6,0.6],[50.8,0.35],[51.0,0.6],[51.3,0.84]],
[[52.4,1.09],[52.6,1.34],[52.6,1.59],[52.8,1.84],[53.1,1.59],[53.3,2.34],[53.3,1.96],[53.5,3.08]],
[[53.3,9.95],[54.5,9.97],[55.8,9.95],[57.3,9.97]],
[[53.6,9.7],[54.4,9.55],[55.4,9.65],[56.2,9.5],[57.2,9.6]],[[54,9.45],[54.8,9.3],[55.6,9.5],[56.4,9.3],[57,9.4]],
[[58.5,2.3],[58.8,1.96],[59.0,1.71],[59.2,1.47],[59.5,1.34],[59.7,1.22],[59.9,1.34],[60.2,1.47],[60.4,1.34],[60.6,1.22],[60.8,1.34],[61.0,1.47],[61.3,1.22],[61.5,1.09],[61.8,0.84],[62.0,0.6],[62.2,0.35],[62.4,0.22],[62.7,0.1],[63.0,0.1],[63.5,0.1],[64.0,0.15]],
[[65.9,0.47],[66.2,0.22],[66.4,0.35],[66.6,0.1],[66.8,0.47],[67.0,0.22],[67.3,0.6]],
[[67.9,9.91],[67.9,9.66],[67.9,9.29],[68.0,8.92],[68.2,9.42],[68.2,8.67],[68.2,8.3],[68.2,7.68],[68.4,7.8],[68.6,7.55],[68.6,7.18],[68.8,6.81],[68.8,6.68],[68.8,6.56],[69.0,6.19],[69.0,5.94],[69.0,5.32],[69.3,5.44],[69.3,5.07],[69.3,4.82],[69.5,4.57],[69.5,4.32],[69.5,4.07]],
[[72.8,2.83],[72.8,2.58],[72.8,2.34],[73.0,2.58],[73.0,2.21],[73.0,2.09],[73.2,2.34],[73.2,2.09],[73.2,1.96],[73.5,2.09],[73.5,1.84],[73.7,1.84]],
[[77.2,2.09],[77.3,1.84],[77.4,1.59],[77.5,1.34],[77.6,1.0],[77.7,0.6]],
[[77.8,0.35],[78.2,0.1],[78.6,0.2],[79.0,0.05],[79.4,0.2],[79.8,0.1],[80.2,0.25],[80.6,0.1],[81.0,0.2],[81.4,0.1],[81.8,0.3]],
[[82.5,9.95],[83.0,9.91],[83.5,9.95],[84.0,9.91],[84.5,9.95],[85.0,9.91],[85.5,9.95],[86.2,9.91]],
[[84.5,9.66],[85.3,9.54],[86.2,9.42],[87.0,9.29],[87.6,9.0],[88.2,8.8],[88.8,8.67],[89.4,8.42],[90.0,8.2],[90.6,8.05],[91.0,7.9],[91.3,7.7],[91.5,7.5],[91.7,7.3]],
[[92.0,9.8],[92.5,9.9],[93.0,9.85],[93.5,9.9],[94.0,9.8]],
[[103.6,9.95],[104.5,9.97],[105.5,9.95],[106.5,9.97],[107.5,9.95],[108.5,9.97],[109.5,9.95],[110.5,9.97],[111.8,9.95]],
[[112.0,8.92],[112.4,8.8],[112.8,8.5],[113.1,8.3],[113.5,8.17],[113.8,7.93],[114.2,7.8],[114.6,7.4],[114.8,7.06]],
[[116.2,5.57],[116.2,5.44],[116.2,5.19],[116.2,4.94],[116.2,4.82],[116.4,4.45],[116.4,4.32],[116.4,4.07],[116.4,3.58],[116.4,3.33]],
[[116.9,1.84],[116.9,1.71],[116.9,1.34],[117.1,1.09],[117.1,0.84],[117.3,0.6],[117.3,0.35],[117.5,0.22],[117.7,0.1],[118.2,0.1],[118.6,0.2],[119.0,0.3],[119.2,0.35]],
[[119.5,9.95],[120.5,9.97],[121.5,9.95],[122.5,9.97],[123.5,9.95],[124.5,9.97],[125.5,9.95],[126.5,9.97],[127.5,9.95],[128.5,9.97],[130.2,9.95]]
];
const greenDots = [[0.6,1.47],[0.8,2.96],[1.0,9.66],[1.0,9.54],[1.0,9.04],[1.0,7.68],[1.0,7.55],[1.0,6.43],[1.0,6.19],[1.3,5.44],[1.3,5.32],[1.3,4.82],[1.5,7.06],[1.5,6.81],[1.5,6.31],[1.7,1.59],
[2.65,9.79],[2.65,9.54],[2.65,9.29],[2.65,8.05],[2.9,9.66],[2.9,9.29],[2.9,4.7],[3.1,8.55],[3.1,4.57],[3.3,2.71],[3.55,0.97],[3.8,0.35],[4.0,1.34],[4.0,0.97],
[5.4,2.34],[5.2,1.59],[5.6,1.34],[5.8,1.59],[6.1,1.84],[6.3,1.59],[6.3,1.09],[6.5,0.97],[6.7,1.34],[6.8,3.58],
[7.4,3.08],[7.4,1.59],[7.7,4.07],[7.7,3.58],[7.7,3.33],[7.7,3.08],[7.9,3.58],[7.9,3.33],[7.9,2.34],[7.9,1.84],[8.1,3.83],[8.1,3.58],[8.1,3.08],[8.1,2.83],[8.1,1.59],[8.4,3.08],[8.4,2.34],[8.6,2.83],[8.6,2.58],[9.0,1.59],[9.0,1.34],[9.0,1.09],
[9.3,4.2],[9.3,3.33],[9.3,3.08],[9.5,2.83],[9.7,3.7],[9.7,3.08],[9.7,2.58],[9.95,3.45],[9.95,3.08],[9.95,2.83],[10.2,4.07],[10.2,3.83],[10.2,2.46],[10.4,5.94],[10.4,5.32],[10.4,1.96],
[10.9,8.17],[10.9,7.8],[10.9,7.68],[11.1,7.06],[11.1,6.56],[11.1,5.32],[11.1,4.94],[11.3,5.44],[11.3,4.82],[11.8,7.3],[11.8,6.68],[11.8,6.31],[12.0,6.43],[12.0,6.31],[12.0,6.19],[12.2,6.68],[12.2,6.06],[12.5,9.29],[12.5,7.3],[12.7,9.66],[12.7,8.55],[12.9,8.05],[12.9,7.68],[13.1,8.3],[13.1,7.55],[13.1,7.3],[13.4,8.67],[13.6,9.79],[13.6,2.34],
[15.2,9.66],[15.2,9.29],[15.2,8.8],[15.4,9.54],[15.4,4.82],[15.4,3.83],[15.4,3.33],[15.4,3.2],[15.4,3.08],[15.65,9.04],[15.65,5.57],[15.9,8.3],[16.1,8.05],[16.1,7.68],[16.3,7.3],[16.3,4.07],[16.6,7.93],[16.6,7.06],[16.6,3.95],[16.6,1.84],[16.8,7.43],[16.8,6.81],[16.8,6.56],[16.8,2.46],[17.0,6.93],[17.0,6.43],[17.25,6.43],[17.25,5.81],[17.5,5.07],[17.5,1.34],[17.7,4.7],[17.7,0.1],[17.9,5.07],[17.9,4.57],[17.9,4.32],[17.9,0.84],[17.9,0.35],[18.2,5.19],[18.2,4.82],[18.2,3.08],[18.2,0.1],[18.4,5.07],[18.4,4.57],[18.4,0.84],[18.6,4.82],[18.6,0.35],[18.6,0.1],[18.85,0.6],[18.85,0.1],
[19.1,4.07],[19.1,3.45],[19.1,1.84],[19.3,4.2],[19.5,5.07],[19.8,4.32],[20.5,5.81],[20.5,5.32],[20.7,9.79],[20.7,9.54],[20.7,9.29],
[21.1,8.3],[21.1,5.32],[21.1,3.45],[21.1,2.71],[21.4,3.45],[21.4,1.09],[22.3,9.66],[22.5,9.79],[22.5,9.42],[23.2,9.79],[23.6,9.79],[23.6,9.54],
[24.1,9.04],[24.3,8.67],[24.8,8.92],[24.8,8.67],[25.0,7.06],[25.0,6.81],[25.2,9.04],[26.6,4.7],[26.6,4.57],[26.8,4.7],[26.8,4.57],[26.8,4.07],[27.1,3.45],[27.1,3.33],[27.1,3.08],[27.3,2.58],[27.3,2.09],
[28.7,5.07],[28.7,4.7],[28.7,4.07],[28.7,3.45],[28.7,1.34],[28.9,6.06],[28.9,5.81],[28.9,5.32],[29.1,6.31],[29.1,6.19],[30.5,9.91],[31.0,9.54],[31.5,9.79],[29.8,9.91],
[32.3,8.55],[32.3,8.42],[32.8,7.18],[32.8,6.93],[32.8,2.96],[32.8,2.34],[33.0,7.55],[33.0,7.43],[33.0,7.3],[33.2,7.55],[32.8,0.6],[32.8,0.35],
[35.05,8.55],[35.05,8.3],[35.3,8.8],[35.3,8.42],[35.5,8.17],[35.5,8.67],[35.7,8.42],[35.7,8.05],[35.97,9.17],
[36.4,5.57],[36.4,3.58],[36.4,2.58],[36.4,1.84],[36.4,0.6],[36.65,5.44],[36.65,5.19],[36.65,3.45],[36.65,2.09],[36.65,1.34],[36.9,4.07],[36.9,3.58],[36.9,3.33],[36.9,2.34],[36.9,1.96],[36.9,1.59],[37.1,4.07],[37.1,3.83],[37.1,3.7],[37.1,1.96],[37.1,1.84],[37.3,5.94],[37.3,5.57],[37.3,3.95],[37.6,5.69],[37.6,5.44],[37.6,3.7],[37.6,2.34],[37.8,5.32],[37.8,3.58],[38.0,5.44],[38.0,8.67],[38.0,1.96],[38.0,1.34],[38.25,5.57],[38.25,2.09],[38.25,1.84],[38.5,5.19],[38.5,1.84],[38.7,6.19],[38.7,5.44],[38.7,4.07],[38.7,3.33],[38.7,1.09],[38.9,4.07],[38.9,3.58],[38.9,3.08],[38.9,0.84],[39.2,3.2],[39.2,2.83],[39.2,2.46],[39.2,0.97],[39.4,3.08],[39.4,1.84],[39.4,1.34],
[40.1,0.97],[40.1,0.47],[40.3,0.72],[40.5,0.1],[40.8,3.45],[40.8,1.84],[40.8,1.47],[41.0,5.07],[41.0,4.07],[41.0,2.58],[41.0,1.84],[41.2,7.68],[41.2,7.55],[41.2,3.08],[41.4,6.06],[41.4,4.94],[41.4,4.32],[41.4,3.58],[41.4,2.83],[41.7,1.47],[41.7,1.22],[41.7,0.84],[41.9,1.59],[41.9,1.34],[41.9,1.09],[41.9,0.35],
[42.1,1.34],[42.1,1.09],[42.1,0.72],[42.1,0.1],[42.4,0.84],[42.4,0.6],[42.6,6.06],[43.0,9.91],[43.0,9.54],[43.3,7.3],[43.3,4.07],[43.3,3.83],[43.3,3.33],[43.5,4.07],[43.5,3.08],[43.5,1.96],[43.5,1.09],[43.5,0.72],[43.7,3.83],[43.7,3.45],[43.7,3.08],[43.95,6.19],[43.95,5.81],[43.95,5.57],[43.95,4.94],[43.95,4.57],[44.2,4.32],[44.2,3.58],[44.2,3.33],[44.4,3.95],[44.4,3.7],[44.4,3.33],[44.4,2.58],[44.4,1.59],[44.6,3.33],[44.6,3.08],[44.6,2.83],[44.6,2.46],[44.6,2.34],[44.9,3.08],[44.9,2.58],[44.9,2.34],[44.9,2.09],[44.9,1.84],[44.9,1.59],[45.1,2.46],[45.1,2.09],[45.1,1.34],[45.1,1.09],[45.3,5.07],[45.55,5.81],[45.55,4.32],[45.55,3.58],[45.55,3.33],[45.55,0.6],[45.8,9.54],[45.8,8.67],[45.8,5.69],[45.8,5.44],[45.8,3.95],[45.8,0.22],[46.0,4.32],[46.0,4.07],[46.0,1.59],[46.0,1.09],[46.2,1.84],[46.2,1.34],[46.2,0.84],[46.2,0.22],[46.5,1.34],[46.5,0.84],[46.5,0.6],[46.5,0.35],[46.7,0.6],[46.7,0.22],[46.9,0.47],[46.9,0.22],[46.9,0.1],[47.15,9.79],[47.15,9.54],[47.15,2.46],[47.15,1.59],[47.15,0.6],[47.4,9.29],[47.4,3.83],[47.4,3.58],[47.4,2.83],[47.4,2.09],
[47.6,8.05],[48.1,7.93],[48.5,7.8],[48.97,7.43],[48.97,6.56],[49.2,6.56],[49.43,3.45],[49.43,1.59],[49.43,1.09],[49.43,0.6],
[50.3,1.22],[50.8,1.09],[51.0,1.22],[51.5,4.2],[51.5,3.45],[51.5,2.83],[51.5,2.34],[51.7,9.29],[51.7,8.92],[51.7,8.55],[51.7,1.34],[51.9,5.57],[51.9,5.07],[51.9,0.84],[52.2,6.81],[52.2,6.43],[52.2,4.82],[52.2,1.09],
[52.4,1.59],[52.4,2.09],[52.6,1.09],[52.8,1.59],[53.1,2.46],[53.1,1.34],[53.3,3.58],[53.5,2.71],[53.5,1.34],[53.77,8.8],[53.77,8.55],[54.2,9.91],[55.0,9.91],[55.8,9.79],[56.6,9.79],
[57.9,7.68],[57.9,6.19],[58.1,5.19],[58.1,3.83],[58.3,3.95],[58.3,3.33],[58.3,2.83],[58.3,2.34],[58.6,2.96],[58.6,2.58],[58.6,2.09],[59.9,5.69],[59.9,3.2],[60.2,1.09],[60.6,1.09],[61.0,1.09],[61.3,0.97],[62.4,2.09],
[62.6,2.09],[62.6,1.09],[64.6,9.91],[64.6,9.79],[64.8,4.57],[64.8,4.32],[64.8,3.95],[64.8,2.96],[65.1,6.06],[65.1,5.81],[65.1,3.83],[65.1,3.33],[65.3,8.67],[65.3,8.17],[65.3,7.43],[65.3,7.3],[65.3,6.19],[65.5,7.43],[65.5,7.18],[65.5,5.81],[65.7,6.93],[65.7,6.43],[65.7,5.94],
[66.2,5.69],[66.8,9.79],[66.8,9.66],[66.8,9.54],[66.8,9.29],[66.8,9.04],[67.3,1.34],[67.5,4.45],[67.5,3.7],[67.5,3.2],[67.5,2.58],[67.5,0.6],[67.7,5.32],
[69.7,4.32],[69.7,4.07],[69.7,2.09],[69.9,9.91],[69.9,9.29],[69.9,5.32],[69.9,4.82],[70.2,4.57],[70.2,4.2],[70.2,4.07],[70.4,1.96],[70.4,1.34],[70.4,0.6],[70.4,0.35],[70.6,3.83],[70.6,1.34],[70.6,0.84],[70.6,0.47],[70.6,0.22],[70.8,0.84],[70.8,0.6],[71.0,1.34],[71.0,1.09],[71.3,9.42],[71.5,9.42],[71.5,7.55],[71.7,7.8],[71.7,7.3],[71.7,6.81],[71.9,6.68],[71.9,6.56],[72.1,6.81],[72.1,6.56],[72.1,6.31],[72.1,1.09],[72.4,6.43],[72.4,5.94],[72.6,4.7],[72.6,2.71],[72.6,2.58],[72.6,2.46],[72.6,1.34],[72.6,0.84],
[73.0,1.34],[73.0,0.47],[73.5,1.09],[73.7,0.97],[73.7,0.6],[73.7,0.35],[73.9,3.58],[73.9,3.33],[73.9,3.08],[73.9,0.6],[74.1,3.95],[74.1,3.2],[74.1,2.96],[74.1,2.58],[74.1,2.34],[74.1,1.84],[74.4,4.07],[74.4,2.34],[74.4,2.09],[74.6,2.09],[74.6,1.84],[74.6,1.34],[74.8,1.96],[75.0,1.34],[75.0,1.09],[75.2,0.6],[75.2,0.35],[75.5,0.35],[75.5,0.22],
[75.7,9.79],[75.7,9.54],[75.7,9.29],[75.7,8.92],[75.9,9.04],[75.9,8.8],[76.1,8.55],[76.4,8.3],[76.4,8.17],[76.6,7.68],[76.6,4.57],[76.6,4.07],[76.6,3.58],[76.6,3.2],[76.8,4.57],[76.8,4.32],[76.8,3.08],[76.8,2.71],[77.0,4.32],[77.0,4.07],[77.0,3.33],[77.5,4.7],[77.5,3.08],[77.6,0.35],[79.2,0.22],[80.6,0.35],[81.9,3.33],[81.9,0.6],
[83.2,9.17],[83.7,8.42],[83.7,5.44],[83.7,4.7],[83.9,9.54],[83.9,9.42],[83.9,7.3],[84.1,9.66],[84.3,9.42],[86.0,9.54],[87.0,9.6],[88.0,9.1],[89.0,8.5],[90.0,8.4],[85.5,9.3],
[92.3,9.3],[92.8,9.1],[93.2,9.4],[93.7,9.2],[94.0,8.9],[94.3,8.7],[94.6,9.0],
[95.2,6.56],[95.2,6.19],[95.4,6.43],[95.4,5.32],[95.6,4.82],[95.6,4.45],[95.6,4.07],[95.6,3.33],[95.6,2.58],[95.6,1.09],[95.6,0.6],[95.6,0.35],[95.6,0.1],[95.8,4.45],[95.8,4.07],[95.8,3.58],[96.1,8.8],[96.1,8.67],[96.3,8.67],[96.3,8.3],[96.3,8.05],[96.5,7.68],[96.5,7.06],[96.5,6.31],[96.5,5.81],[96.7,5.94],[96.7,6.19],[96.9,9.91],[96.9,9.54],[97.2,4.2],[97.2,3.2],[97.2,2.21],[97.4,3.7],[97.6,9.66],[97.6,9.29],[97.6,9.04],[97.6,8.8],[97.6,8.3],[97.8,9.79],[98.1,7.18],[98.1,6.81],[98.3,9.42],[98.3,9.04],[98.3,8.67],[98.5,9.17],[98.7,8.17],[98.7,7.8],[98.7,6.19],[98.7,5.44],
[98.9,2.46],[98.9,2.34],[98.9,1.84],[98.9,1.59],[98.9,1.22],[99.2,4.32],[99.2,3.08],[99.2,2.58],[99.2,1.96],[99.2,1.59],[99.2,1.09],[99.4,2.83],[99.4,2.46],[99.4,2.21],[99.4,1.84],[99.4,1.34],[99.4,1.09],[99.6,3.2],[99.6,2.83],[99.6,1.84],[99.6,1.34],[99.8,7.3],[99.8,6.81],[99.8,3.08],[99.8,2.83],[99.8,2.09],[99.8,1.59],[100.0,8.67],[100.0,8.55],[100.0,2.58],[100.0,2.34],[100.2,4.82],[100.2,4.32],[100.2,4.07],[100.2,3.58],[100.2,3.08],[100.5,4.82],[100.5,4.32],[100.5,2.34],[100.5,1.84],[100.5,1.34],[100.7,4.7],[100.7,3.08],[100.7,2.83],[100.9,8.3],[100.9,8.05],[100.9,3.58],[100.9,2.46],[100.9,1.59],[101.2,5.07],[101.2,1.96],[101.2,1.09],[101.2,0.84],[101.4,2.96],[101.4,2.58],[101.4,1.84],[101.6,5.07],[101.6,3.58],[101.6,1.34],[101.6,1.09],[101.8,8.05],[101.8,7.93],[101.8,2.09],[101.8,1.59],[102.0,2.96],[102.0,1.22],[102.0,0.72],[102.3,9.91],[102.3,9.54],[102.3,9.29],[102.3,1.22],[102.5,3.95],[102.5,1.34],[102.5,0.97],[102.5,0.6],[102.7,1.96],[102.7,0.84],[102.9,0.97],[102.9,0.72],[102.9,0.6],[103.1,1.59],[103.1,1.09],[103.1,0.84],[103.3,0.72],[103.3,1.59],
[103.6,5.57],[103.6,5.19],[103.6,4.57],[103.6,3.58],[103.6,3.45],
[105.4,9.42],[105.8,9.54],[105.8,9.17],[106.7,9.04],[107.6,9.79],[109.3,9.29],[110.2,9.66],[110.2,9.54],[110.7,9.42],[110.7,9.29],[111.1,9.79],[111.1,9.3],[111.1,9.0],[111.6,9.42],[111.6,9.17],
[112.4,8.55],[112.4,8.05],[112.4,7.55],[112.9,8.3],[112.9,8.05],[112.9,7.3],[113.3,8.42],[113.3,8.05],[113.8,8.3],[113.8,7.68],[114.2,8.17],[114.4,7.18],[114.8,7.68],[115.0,6.81],
[114.9,3.95],[114.9,3.7],[114.9,2.96],[114.9,1.34],[114.9,0.84],[115.1,4.57],[115.1,4.45],[115.1,4.32],[115.1,3.08],[115.3,9.42],[115.3,9.29],[115.3,9.17],[115.3,3.33],[115.5,9.17],[115.5,9.04],[115.8,6.43],[115.8,6.31],[116.0,6.81],[116.0,6.19],[116.7,4.7],[116.7,4.32],
[117.5,0.1],[118.0,0.22],[118.4,0.1],[118.8,0.35],[119.3,5.57],[119.3,4.57],[119.3,4.32],
[120.0,9.79],[120.0,9.54],[120.9,9.66],[120.9,9.42],[121.1,9.79],[121.3,9.66],[121.3,9.42],[121.3,9.29],[121.3,8.92],[121.3,8.55],[121.3,7.93],[121.3,7.55],[121.5,8.8],[121.5,8.42],[121.5,7.18],[121.5,6.81],[121.7,6.93],[121.7,6.81],[122.0,9.54],[122.0,9.04],[122.0,8.8],[122.2,8.55],[122.2,8.42],[122.6,9.66],[122.6,9.54],[122.6,8.3],[122.8,8.17],[122.8,7.8],[122.8,7.43],[123.1,7.68],[123.1,7.43],[123.3,7.06],[123.5,8.8],[123.5,8.55],[123.7,9.42],[124.4,9.17],[124.9,9.04],[124.9,8.67],[124.9,6.56],[125.1,6.31],[125.1,6.19],[125.3,8.05],[125.5,5.81],[125.7,9.66],[125.7,9.42],[126.2,9.42],[126.2,9.29],[126.4,7.3],[126.4,7.18],[126.6,5.57],[126.6,5.07],[126.9,9.04],[127.5,9.66]];

// daily precipitation (mm)
const precipDay = [0,1,2,3,4,5,10,12,13,14,15,16,20,22,23,24,27,28,29,30,31,32,33,34,35,36,37,38,39,40,42,43,45,46,51,52,55,56,57,58,61,62,63,64,66,67,68,70,71,72,74,83,84,85,86,87,90,91,92,93,94,95,98,99,100,101,104,105,107,108,110,111,112,116,117,118,119,120,121,122,123,124,125,126,127,128,129];
const precipMm = [4.2,6,30,7,3.1,2.2,7,5,1.1,3.1,15,2.2,34.3,13.2,1.1,8,1.1,6,8,4.2,6,1.1,7,12.1,11.1,3.1,8,7,2.2,16,17.1,5,10.2,3.1,2.2,7,1.1,10.1,4.2,4.2,1.1,1.1,14.1,7,3.1,1.1,12.1,1.1,10.1,32,1.1,23.1,11,8,5,5,13.2,14.1,4.2,10.1,18,2.1,10.1,2.1,3.1,1.1,8,4.2,2.1,21.1,1.1,2.1,3.1,3.1,7,3.1,2.1,1.1,4.2,9.1,10.1,6,8,13.2,7,4.2,12.1];

// air temperature (°C)
const temp = [[0,9.1],[0.14,8.3],[0.36,9.4],[0.55,8.0],[0.73,8.6],[0.91,7.5],[1.14,8.6],[1.37,8.85],[1.5,9.8],[1.73,8.3],[1.96,8.0],[2.23,6.25],[2.41,9.1],[2.64,9.8],[2.82,11.6],[3.1,10.8],[3.41,11.7],[3.64,10.9],[3.87,11.0],[4.1,10.5],[4.32,11.9],[4.46,9.7],[4.64,13.2],[4.78,10.2],[4.92,8.0],[5.23,6.9],[5.55,5.85],[5.78,4.2],[6.01,3.65],[6.28,4.2],[6.37,6.4],[6.6,7.5],[6.92,6.9],[7.19,8.85],[7.51,10.9],[7.74,9.4],[7.97,8.0],[8.19,7.2],[8.42,9.4],[8.65,8.0],[9.01,7.5],[9.33,6.9],[9.56,9.4],[9.92,7.5],[10.24,9.1],[10.47,12.3],[10.7,9.7],[10.92,8.85],[11.15,10.2],[11.47,11.0],[11.83,10.8],[12.2,11.6],[12.52,10.2],[12.97,9.7],[13.43,9.1],[13.75,7.5],[14.02,9.9],[14.25,11.0],[14.57,10.2],[14.93,8.6],[15.11,11.0],[15.38,12.1],[15.61,12.7],[15.93,10.5],[16.2,9.1],[16.48,10.8],[16.75,8.3],[16.98,6.1],[17.3,6.9],[17.57,8.0],[17.75,5.55],[18.02,5.15],[18.3,6.65],[18.57,7.75],[18.89,8.0],[19.21,8.6],[19.57,9.4],[19.94,8.6],[20.25,7.75],[20.57,8.0],[20.8,12.1],[21.03,10.2],[21.3,8.6],[21.71,6.9],[22.07,8.6],[22.39,10.5],[22.76,11.6],[23.12,10.8],[23.44,11.0],[23.81,10.9],[24.12,10.2],[24.44,11.45],[24.81,9.95],[25.17,10.5],[25.49,10.2],[25.95,8.85],[26.26,6.9],[26.63,7.5],[26.86,5.85],[27.08,4.45],[27.31,3.9],[27.54,5.3],[27.77,3.35],[28.04,3.9],[28.22,5.85],[28.45,7.75],[28.67,9.1],[28.9,10.2],[29.13,11.3],[29.5,11.9],[29.81,10.8],[30.13,11.0],[30.5,10.8],[30.86,11.0],[31.18,11.6],[31.41,12.4],[31.63,10.8],[31.95,9.4],[32.23,10.2],[32.54,9.1],[32.86,9.7],[33.23,11.3],[33.59,11.0],[33.91,10.8],[34.23,10.5],[34.59,10.6],[34.96,10.8],[35.28,11.6],[35.59,11.3],[35.87,12.3],[36.05,10.5],[36.32,9.1],[36.64,8.85],[36.96,8.6],[37.32,8.85],[37.69,8.0],[38.0,7.5],[38.23,6.65],[38.46,7.2],[38.78,5.85],[39.14,6.4],[39.51,5.85],[39.83,4.75],[40.15,3.65],[40.42,3.35],[40.6,5.3],[40.87,10.8],[41.19,9.7],[41.42,10.2],[41.65,8.3],[41.87,5.55],[42.1,4.2],[42.33,5.3],[42.56,6.1],[42.79,5.85],[43.01,8.0],[43.24,10.5],[43.47,10.2],[43.7,9.1],[44.01,8.0],[44.38,8.6],[44.61,7.75],[44.83,7.5],[45.15,8.3],[45.43,9.4],[45.61,9.9],[45.88,8.3],[46.2,6.65],[46.52,5.3],[46.79,2.25],[47.02,4.2],[47.2,6.9],[47.43,8.85],[47.79,8.6],[48.16,7.75],[48.47,8.3],[48.7,7.2],[48.93,9.4],[49.07,2.0],[49.29,0.1],[49.61,0.9],[49.98,1.45],[50.3,3.35],[50.53,2.55],[50.89,2.55],[51.21,2.8],[51.53,3.1],[51.8,2.0],[52.12,1.45],[52.34,2.25],[52.57,1.45],[52.8,1.2],[53.03,3.35],[53.35,5.3],[53.71,6.4],[53.94,6.9],[54.17,5.55],[54.44,6.9],[54.71,5.85],[54.99,6.4],[55.31,5.55],[55.53,6.4],[55.76,4.75],[55.99,4.45],[56.21,6.9],[56.44,8.3],[56.8,8.6],[57.12,9.1],[57.44,9.7],[57.71,10.5],[57.89,10.2],[58.16,8.3],[58.48,7.75],[58.71,6.4],[58.94,4.75],[59.17,3.35],[59.4,4.2],[59.72,4.75],[59.99,5.55],[60.31,6.65],[60.63,6.9],[61.0,6.4],[61.36,6.9],[61.68,7.2],[61.9,6.4],[62.13,6.9],[62.36,7.75],[62.49,4.2],[62.72,2.0],[63.04,0.9],[63.27,0.1],[63.6,0.1],[63.83,3.35],[64.14,5.55],[64.49,6.65],[64.71,7.2],[65.02,6.9],[65.37,5.85],[65.59,2.0],[65.81,0.1],[66.48,0.1],[66.92,0.1],[67.23,3.1],[67.49,4.2],[67.71,5.0],[67.93,8.6],[68.11,8.85],[68.37,6.4],[68.68,5.85],[68.9,5.0],[69.12,4.45],[69.43,5.55],[69.7,5.85],[70.01,4.75],[70.23,6.1],[70.45,5.55],[70.67,5.85],[71.02,5.55],[71.33,6.65],[71.64,5.3],[71.99,5.3],[72.22,4.45],[72.66,4.2],[72.97,2.25],[73.23,2.25],[73.54,3.9],[73.76,3.1],[74.11,3.35],[74.42,2.8],[74.64,3.1],[74.95,1.45],[75.17,2.55],[75.44,4.75],[75.61,8.0],[75.88,8.85],[76.19,8.3],[76.41,8.0],[76.76,7.5],[77.07,6.9],[77.29,5.0],[77.65,4.75],[77.96,3.65],[78.26,2.8],[78.62,2.55],[78.97,1.2],[79.15,2.25],[79.5,2.25],[79.85,2.55],[80.16,2.25],[80.38,2.55],[80.6,1.45],[80.83,0.9],[81.05,2.0],[81.27,1.45],[81.49,2.0],[81.71,3.1],[82.06,6.65],[82.37,8.3],[82.59,8.85],[82.86,9.7],[83.12,9.4],[83.34,7.75],[83.56,8.85],[83.78,9.7],[84.0,10.2],[84.27,10.9],[84.49,10.8],[84.71,9.1],[84.89,8.0],[85.15,8.85],[85.46,9.95],[85.77,10.2],[86.12,9.95],[86.48,9.4],[86.79,8.85],[87.09,8.6],[87.45,8.3],[87.89,8.85],[88.24,8.0],[88.55,7.75],[88.86,6.4],[89.12,8.0],[89.43,8.85],[89.74,9.1],[90.1,8.6],[90.45,8.6],[90.76,7.75],[91.07,7.5],[91.42,7.75],[91.73,6.4],[92.0,7.75],[92.3,8.6],[92.52,8.85],[92.83,7.75],[93.19,7.5],[93.45,5.85],[93.72,5.3],[93.98,6.9],[94.2,8.6],[94.42,9.7],[94.6,8.0],[94.86,5.3],[95.17,4.2],[95.48,2.8],[95.66,4.2],[95.92,6.9],[96.19,7.5],[96.5,7.2],[96.72,3.9],[96.94,3.65],[97.16,6.65],[97.38,9.1],[97.6,9.7],[97.82,8.0],[98.13,5.85],[98.49,5.3],[98.84,4.45],[99.15,3.9],[99.46,3.35],[99.81,2.55],[100.16,2.25],[100.47,2.55],[100.78,2.0],[101.05,0.9],[101.22,2.25],[101.44,4.2],[101.66,6.4],[101.93,7.5],[102.15,7.75],[102.37,6.4],[102.59,6.65],[102.9,7.75],[103.25,8.0],[103.47,8.6],[103.7,9.1],[103.87,9.4],[104.14,7.75],[104.45,7.2],[104.75,6.4],[105.11,5.3],[105.46,4.75],[105.77,5.0],[106.08,4.2],[106.34,3.65],[106.65,5.85],[106.87,6.65],[107.09,6.4],[107.4,6.65],[107.76,6.4],[108.11,6.65],[108.42,5.85],[108.73,4.75],[108.99,3.65],[109.3,4.75],[109.61,5.3],[109.88,4.2],[110.18,4.75],[110.4,3.1],[110.76,4.2],[111.07,5.55],[111.29,3.65],[111.64,3.9],[111.95,3.65],[112.26,3.1],[112.61,3.35],[112.97,2.8],[113.28,2.55],[113.58,2.0],[113.94,1.45],[114.16,2.0],[114.38,2.25],[114.73,0.9],[115.04,2.25],[115.35,3.1],[115.62,3.35],[115.92,3.1],[116.23,2.55],[116.5,1.7],[116.81,0.9],[117.12,0.9],[117.38,0.35],[117.65,0.1],[117.91,0.9],[118.18,0.65],[118.44,1.45],[118.7,2.55],[119.02,4.2],[119.32,5.0],[119.59,5.55],[119.9,6.5],[120.12,4.75],[120.34,3.35],[120.65,2.8],[120.91,3.65],[121.22,2.25],[121.53,3.9],[121.8,2.55],[122.11,3.65],[122.41,2.8],[122.68,2.0],[122.99,3.1],[123.3,2.55],[123.65,3.35],[124.0,4.2],[124.31,5.85],[124.53,6.4],[124.89,5.3],[125.2,5.85],[125.42,4.2],[125.77,2.0],[125.95,1.7],[126.21,3.35],[126.39,2.0],[126.65,3.9],[126.96,5.0],[127.18,4.2],[127.54,2.8],[127.84,3.35],[128.07,2.25],[128.29,1.45],[128.51,3.35],[128.86,3.1],[129.04,3.9],[129.21,8.85],[129.48,9.1],[129.75,8.85],[129.92,8.6],[130.1,5.3]];

// panel annotations
const panelNames = ["afskærmet mur","uafdækket mur","mur bag gitter"];
const yTitles = ["Overfladefugt (-) og RF x 0.1","Overfladefugt (-) og RF x 0.1","Overfladefugt (-) & RF x 0,1","Nedbør (mm)","Lufttemperatur (°C)"];

// ---------------- DRAWING ----------------
const svg = d3.select("#c");
const RIGHT = 1240;
const layout = [
  {left:62, top:19.3, bottom:285, week:62.6, yMax:10, step:1, tcx:27.5, tlen:244},
  {left:62, top:325.7, bottom:592.7, week:62.6, yMax:10, step:1, tcx:27.5, tlen:242},
  {left:62, top:634.3, bottom:902.7, week:62.6, yMax:10, step:1, tcx:27.5, tlen:236},
  {left:63, top:942.7, bottom:1198.3, week:62.48, yMax:40, step:5, tcx:30.5, tlen:115},
  {left:65.3, top:1274.3, bottom:1517.7, week:62.8, yMax:20, step:2, tcx:31.5, tlen:166}
];
const panels = layout.map((p,i)=>{
  const x = d3.scaleLinear().domain([0,7]).range([p.left, p.left+p.week]);
  const y = d3.scaleLinear().domain([0,p.yMax]).range([p.bottom, p.top]);
  const g = svg.append("g");
  const maxDay = x.invert(RIGHT);
  const ticks = d3.range(0, p.yMax+0.001, p.step);
  g.selectAll(".hg").data(ticks.filter(t=>t>0 && t<p.yMax)).join("line")
    .attr("x1",p.left).attr("x2",RIGHT).attr("y1",d=>y(d)).attr("y2",d=>y(d))
    .attr("stroke","#1a1a1a").attr("stroke-width",1);
  g.selectAll(".vg").data(d3.range(7, maxDay, 7)).join("line")
    .attr("x1",d=>x(d)).attr("x2",d=>x(d)).attr("y1",p.top).attr("y2",p.bottom)
    .attr("stroke","#1a1a1a").attr("stroke-width",1);
  g.append("line").attr("x1",p.left).attr("x2",RIGHT).attr("y1",p.top).attr("y2",p.top).attr("stroke","#000").attr("stroke-width",2);
  g.append("line").attr("x1",p.left).attr("x2",p.left).attr("y1",p.top).attr("y2",p.bottom).attr("stroke","#000").attr("stroke-width",2);
  g.append("line").attr("x1",p.left-1).attr("x2",RIGHT).attr("y1",p.bottom).attr("y2",p.bottom).attr("stroke","#000").attr("stroke-width",2.6);
  const ax = d3.axisLeft(y).tickValues(ticks).tickSize(5).tickPadding(3).tickFormat(d3.format("d"));
  const axg = g.append("g").attr("transform",`translate(${p.left},0)`).call(ax);
  axg.select(".domain").remove();
  axg.selectAll(".tick line").attr("stroke","#000").attr("stroke-width",1.2);
  axg.selectAll(".tick text").attr("font-size",12).attr("fill","#333").attr("font-family","Arial, Liberation Sans, sans-serif");
  g.append("text").attr("transform",`translate(${p.tcx},${(p.top+p.bottom)/2}) rotate(-90)`)
    .attr("text-anchor","middle").attr("font-size",18).attr("fill","#555")
    .attr("textLength",p.tlen).attr("lengthAdjust","spacing").text(yTitles[i]);
  const clipId = "clip"+i;
  svg.append("clipPath").attr("id",clipId).append("rect")
    .attr("x",p.left-3).attr("y",p.top-6).attr("width",RIGHT-p.left+3).attr("height",p.bottom-p.top+10);
  const plot = svg.append("g").attr("clip-path",`url(#${clipId})`);
  return {p,x,y,g,plot};
});

function drawScatter(panel, runs, dots, color){
  const {x,y,plot} = panel;
  const line = d3.line().x(d=>x(d[0])).y(d=>y(d[1]));
  plot.append("g").selectAll("path").data(runs.filter(r=>r.length>1)).join("path")
    .attr("d",line).attr("fill","none").attr("stroke",color).attr("stroke-width",4.8)
    .attr("stroke-linecap","round").attr("stroke-linejoin","round").attr("stroke-dasharray","0 3");
  plot.append("g").selectAll("circle").data(runs.flat().concat(dots)).join("circle")
    .attr("cx",d=>x(d[0])).attr("cy",d=>y(d[1])).attr("r",2.5).attr("fill",color);
}
function drawRF(panel, color){
  const {x,y,plot} = panel;
  plot.append("path").datum(rf).attr("d",d3.line().x(d=>x(d[0])).y(d=>y(d[1])))
    .attr("fill","none").attr("stroke",color).attr("stroke-width",2).attr("stroke-linejoin","round");
}
drawScatter(panels[0], blueRuns, blueDots, "#1616d6");
drawRF(panels[0], "#3fdede");
drawScatter(panels[1], redRuns, redDots, "#f01212");
drawRF(panels[1], "#e03ce6");
drawScatter(panels[2], greenRuns, greenDots, "#33906a");
drawRF(panels[2], "#3de23a");

// precipitation bars
{
  const {x,y,plot} = panels[3];
  plot.selectAll("rect.bar").data(precipDay.map((d,i)=>[d,precipMm[i]])).join("rect")
    .attr("x",d=>x(d[0]+0.45)-2.6).attr("width",5.2)
    .attr("y",d=>y(d[1])).attr("height",d=>y(0)-y(d[1])).attr("fill","#000");
}
// temperature
{
  const {x,y,plot} = panels[4];
  plot.append("path").datum(temp).attr("d",d3.line().x(d=>x(d[0])).y(d=>y(d[1])))
    .attr("fill","none").attr("stroke","#000").attr("stroke-width",2).attr("stroke-linejoin","round");
  svg.append("g").selectAll("text").data(weekLabels).join("text")
    .attr("x",(d,i)=>x(weekLabelDay[i])).attr("y",1554).attr("text-anchor","middle")
    .attr("font-size",19).attr("fill","#111").text(d=>d);
}
// panel name boxes
const boxes = [
  {x:1079,y:225,w:139,h:32,tx:1147.5,ty:248,len:129},
  {x:1075,y:525,w:157,h:32,tx:1146.5,ty:548,len:127},
  {x:1063,y:823,w:165,h:34,tx:1127.5,ty:847,len:120}
];
boxes.forEach((b,i)=>{
  svg.append("rect").attr("x",b.x).attr("y",b.y).attr("width",b.w).attr("height",b.h).attr("fill","#fff");
  svg.append("text").attr("x",b.tx).attr("y",b.ty).attr("text-anchor","middle").attr("font-size",18)
    .attr("fill","#000").attr("textLength",b.len).attr("lengthAdjust","spacingAndGlyphs").text(panelNames[i]);
});
</script></body></html>
